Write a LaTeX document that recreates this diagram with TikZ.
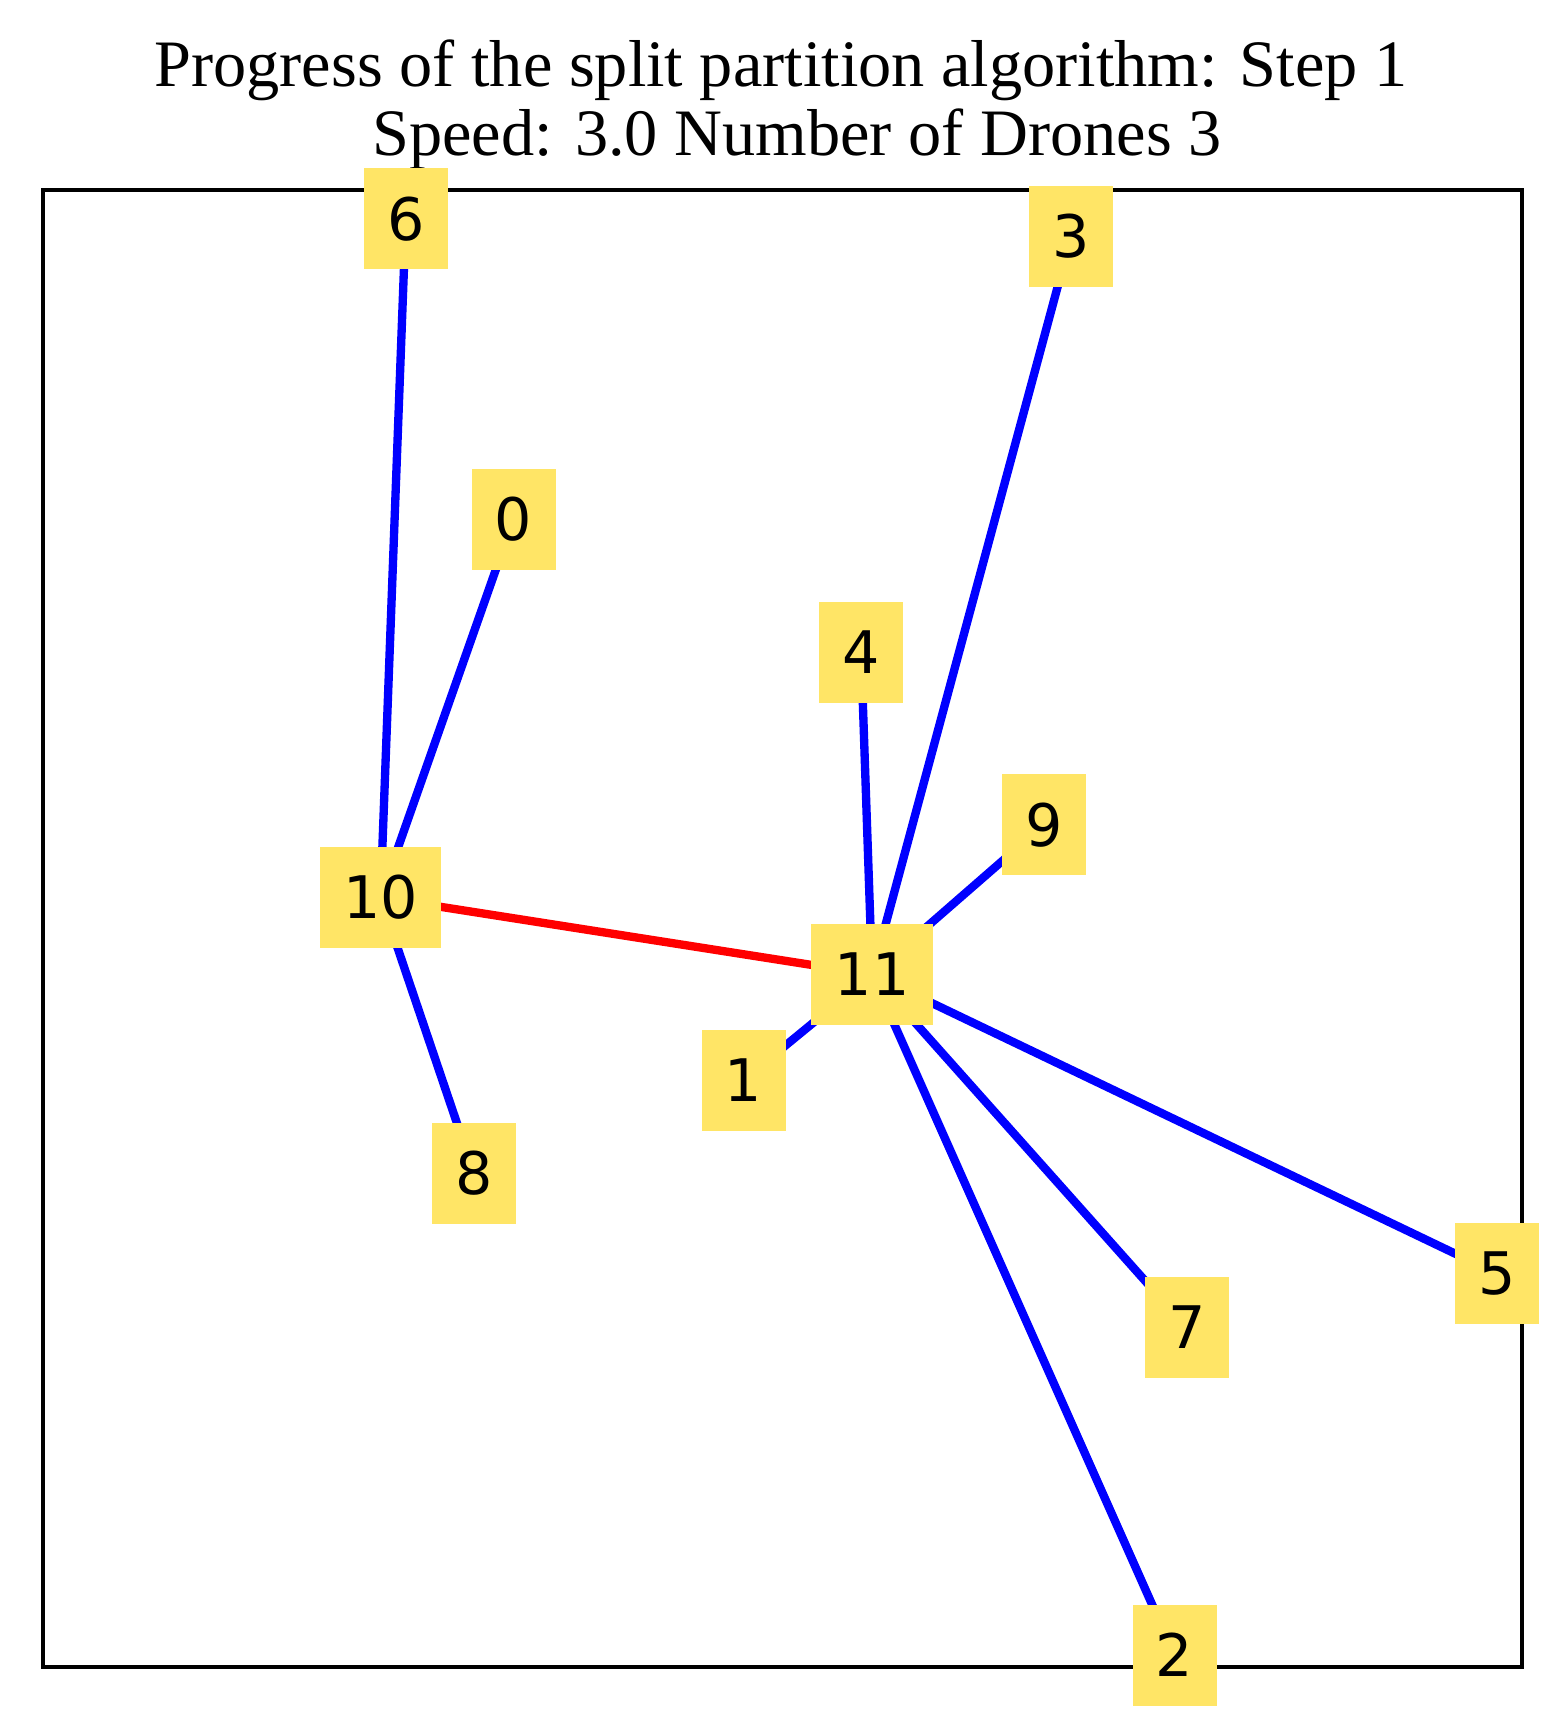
\documentclass[tikz,border=0pt]{standalone}
\usepackage{fontspec}
\setmainfont{Liberation Serif}
\newfontfamily\labelfont{DejaVu Sans}
\usepackage{xcolor}
\usepackage{tikz}
\definecolor{nodeYellow}{RGB}{255,229,102}
\pgfdeclarelayer{background}
\pgfsetlayers{background,main}

\begin{document}
\begin{tikzpicture}[
    x=0.3pt, y=-0.3pt,
    drone/.style={fill=nodeYellow, inner xsep=7pt, inner ysep=0pt, minimum height=30.3pt, font=\labelfont\fontsize{17.6}{20}\selectfont},
    title/.style={anchor=base, font=\fontsize{19.9}{24}\selectfont},
    link/.style={line width=2.5pt, draw=blue},
    split/.style={line width=2.5pt, draw=red}
  ]
    \useasboundingbox (0,0) rectangle (1565,1724);

    \node[title] (t1) at (781,87) {Progress of the split partition algorithm: Step 1};
    \node[title] (t2) at (797,156) {Speed: 3.0 Number of Drones 3};

    \node[drone] (n0) at (513.6,519.1) {0};
    \node[drone] (n1) at (743.5,1080.0) {1};
    \node[drone] (n2) at (1174.6,1655.2) {2};
    \node[drone] (n3) at (1071.2,236.5) {3};
    \node[drone] (n4) at (861.1,652.2) {4};
    \node[drone] (n5) at (1496.8,1273.6) {5};
    \node[drone] (n6) at (405.8,218.9) {6};
    \node[drone] (n7) at (1186.7,1327.5) {7};
    \node[drone] (n8) at (474.0,1173.5) {8};
    \node[drone] (n9) at (1043.7,824.9) {9};
    \node[drone] (n10) at (380.5,897.4) {10};
    \node[drone] (n11) at (872.1,974.4) {11};

    \begin{pgfonlayer}{background}
      \draw[line width=1.1pt] (43,190) rectangle (1522,1667);
      \foreach \a in {0,6,8} \draw[link] (n10.center) -- (n\a.center);
      \foreach \a in {1,2,3,4,5,7,9} \draw[link] (n11.center) -- (n\a.center);
      \draw[split] (n10.center) -- (n11.center);
    \end{pgfonlayer}
  \end{tikzpicture}
\end{document}
